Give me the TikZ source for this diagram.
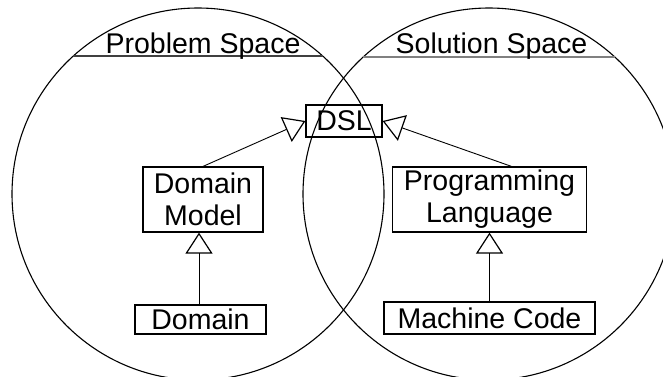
\documentclass[tikz,border=0pt]{standalone}
\usepackage{fontspec}
\setmainfont{Liberation Sans}
\usetikzlibrary{arrows.meta}

\tikzset{
  space/.style={line width=1.1pt, draw=black},
  spacerule/.style={line width=1.2pt},
  spacetitle/.style={anchor=base, inner sep=0pt, font=\fontsize{28.5}{32}\selectfont},
  concept/.style={draw, line width=1.2pt, inner sep=0pt, align=center,
    font=\fontsize{28.5}{32}\selectfont},
  generalizes/.style={line width=0.9pt,
    -{Triangle[open, length=21pt, width=27pt, line width=1.2pt]}},
}

\begin{document}
\begin{tikzpicture}[x=1pt, y=-1pt]
  \useasboundingbox (0,0) rectangle (663,376);
  \clip (0,0) rectangle (663,376);

  % the two spaces
  \draw[space] (198,194) circle[radius=186pt];
  \draw[space] (489,194) circle[radius=186pt];

  % title rules
  \draw[spacerule, draw=black!75] (73.3,56) -- (322.7,56);
  \draw[spacerule, draw=black!50] (363.2,57) -- (614.8,57);

  \node[spacetitle] (pst) at (203,53) {Problem Space};
  \node[spacetitle] (sst) at (491.5,53) {Solution Space};

  % concepts
  \node[concept, minimum width=76pt, minimum height=32pt] (dsl) at (344,121) {DSL};
  \node[concept, minimum width=120pt, minimum height=65pt] (dm) at (203,199.5) {Domain\\Model};
  \node[concept, minimum width=131pt, minimum height=29pt] (dom) at (200.5,319.5) {Domain};
  \node[concept, minimum width=194pt, minimum height=65pt] (pl) at (489.5,199.5) {Programming\\Language};
  \node[concept, minimum width=211pt, minimum height=32pt] (mc) at (489.5,318) {Machine Code};

  % generalization arrows
  \draw[generalizes] ([xshift=-1.5pt]dom.north) -- ([xshift=-1.5pt]dom.north |- dm.south);
  \draw[generalizes] (dm.north) -- (dsl.west);
  \draw[generalizes] ([xshift=22pt]pl.north) -- (dsl.east);
  \draw[generalizes] (mc.north) -- (mc.north |- pl.south);
\end{tikzpicture}
\end{document}
